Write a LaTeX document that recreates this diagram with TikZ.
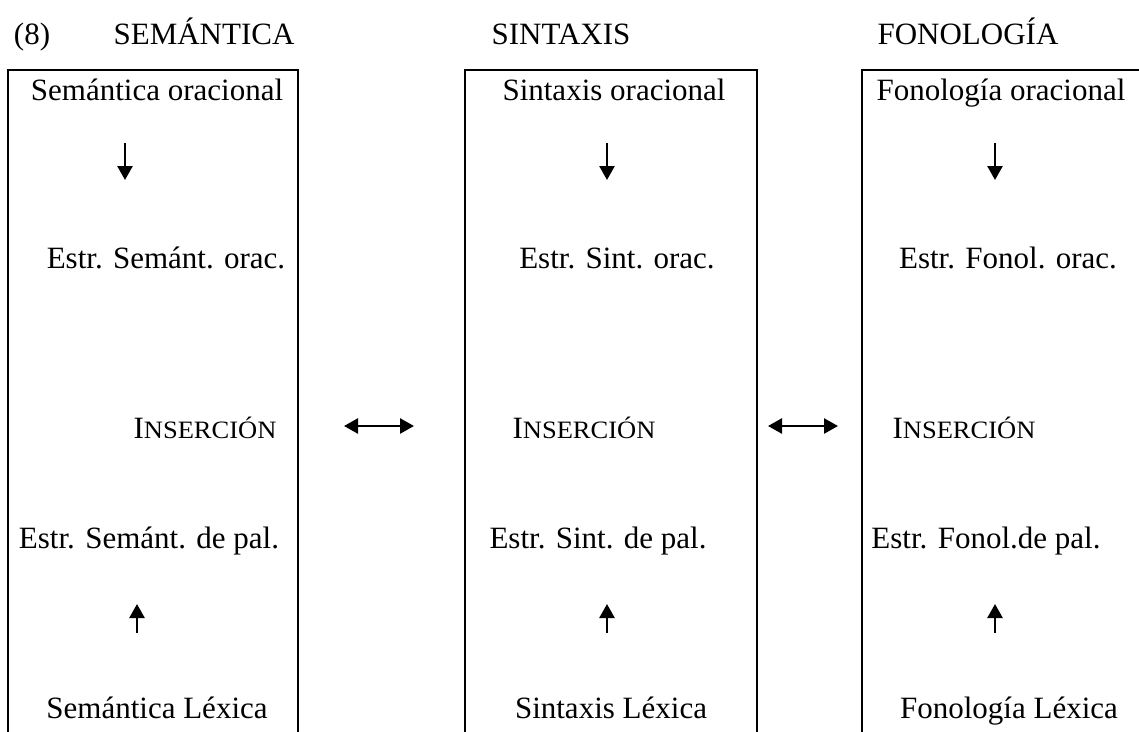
\documentclass[tikz,border=0pt]{standalone}
\usepackage{fontspec}
\setmainfont{Liberation Serif}
\newfontfamily\scfont[FakeStretch=1.06]{Liberation Serif}
\usetikzlibrary{arrows.meta}
% small capitals built from two sizes of the same face
\newcommand{\mysc}[2]{{\fontsize{31}{37}\selectfont #1}{\scfont\fontsize{25}{30}\selectfont #2}}
\begin{document}
\begin{tikzpicture}[x=1pt,y=-1pt,
  txt/.style={inner sep=0pt,anchor=base,font=\fontsize{31}{37}\selectfont},
  frame/.style={line width=1.8pt},
  head/.tip={Triangle[length=14pt,width=15pt]},
  flow/.style={line width=2.6pt,-head},
  link/.style={line width=2.6pt,head-head}]
\useasboundingbox (0,0) rectangle (1139,731);
\clip (0,0) rectangle (1139,731);

% column frames, open at the bottom
\draw[frame] (8,735) -- (8,70) -- (298,70) -- (298,735);
\draw[frame] (465,735) -- (465,70) -- (757,70) -- (757,735);
\draw[frame] (862,735) -- (862,70) -- (1145,70) -- (1145,735);

% headings
\node[txt] (num) at (32,44) {(8)};
\node[txt] (hsem) at (204,44) {SEMÁNTICA};
\node[txt] (hsin) at (561,44) {SINTAXIS};
\node[txt] (hfon) at (968,44) {FONOLOGÍA};

% semantics column
\node[txt] (s1) at (157,100) {Semántica oracional};
\node[txt] (s2) at (166,268) {Estr. Semánt. orac.};
\node[txt] (s3) at (205,438) {\mysc{I}{NSERCIÓN}};
\node[txt] (s4) at (149,548) {Estr. Semánt. de pal.};
\node[txt] (s5) at (157,718) {Semántica Léxica};

% syntax column
\node[txt] (t1) at (614,100) {Sintaxis oracional};
\node[txt] (t2) at (617,268) {Estr. Sint. orac.};
\node[txt] (t3) at (584,438) {\mysc{I}{NSERCIÓN}};
\node[txt] (t4) at (598,548) {Estr. Sint. de pal.};
\node[txt] (t5) at (611,718) {Sintaxis Léxica};

% phonology column
\node[txt] (f1) at (1001,100) {Fonología oracional};
\node[txt] (f2) at (1008,268) {Estr. Fonol. orac.};
\node[txt] (f3) at (964,438) {\mysc{I}{NSERCIÓN}};
\node[txt] (f4) at (986,548) {Estr. Fonol.de pal.};
\node[txt] (f5) at (1009,718) {Fonología Léxica};

% arrow end points
\coordinate (sdA) at (125,143); \coordinate (sdB) at (125,180);
\coordinate (tdA) at (607,143); \coordinate (tdB) at (607,180);
\coordinate (fdA) at (995,143); \coordinate (fdB) at (995,180);
\coordinate (suA) at (137,633); \coordinate (suB) at (137,604);
\coordinate (tuA) at (607,633); \coordinate (tuB) at (607,604);
\coordinate (fuA) at (995,633); \coordinate (fuB) at (995,604);
\coordinate (l1A) at (344,426); \coordinate (l1B) at (414,426);
\coordinate (l2A) at (768,426); \coordinate (l2B) at (838,426);

\draw[flow] (sdA) -- (sdB);
\draw[flow] (tdA) -- (tdB);
\draw[flow] (fdA) -- (fdB);
\draw[flow] (suA) -- (suB);
\draw[flow] (tuA) -- (tuB);
\draw[flow] (fuA) -- (fuB);
\draw[link] (l1A) -- (l1B);
\draw[link] (l2A) -- (l2B);
\end{tikzpicture}
\end{document}
